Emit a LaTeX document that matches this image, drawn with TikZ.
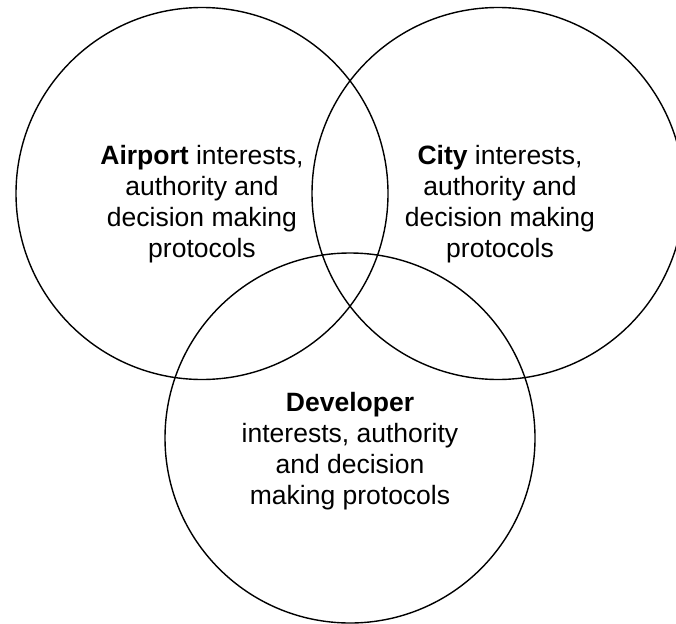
\documentclass[tikz,border=0pt]{standalone}
\usepackage{fontspec}
\setmainfont{Liberation Sans}
\begin{document}
\begin{tikzpicture}[x=1pt,y=-1pt,
  ring/.style={draw=black,line width=1.4pt},
  label/.style={align=center,inner sep=0pt,font={\fontsize{26.5}{31}\selectfont}}]
\useasboundingbox (0,0) rectangle (676,623);
\clip (0,0) rectangle (676,623);
\node[ring,circle,minimum size=372pt,inner sep=0pt] (airport) at (202,193.5) {};
\node[ring,circle,minimum size=372pt,inner sep=0pt] (city) at (498,193.5) {};
\node[ring,circle,minimum size=370pt,inner sep=0pt] (dev) at (350,438) {};
\node[label] (airporttext) at (202,204.5) {\textbf{Airport} interests,\\authority and\\decision making\\protocols};
\node[label] (citytext) at (500,204.5) {\textbf{City} interests,\\authority and\\decision making\\protocols};
\node[label] (devtext) at (350,451) {\textbf{Developer}\\interests, authority\\and decision\\making protocols};
\end{tikzpicture}
\end{document}
